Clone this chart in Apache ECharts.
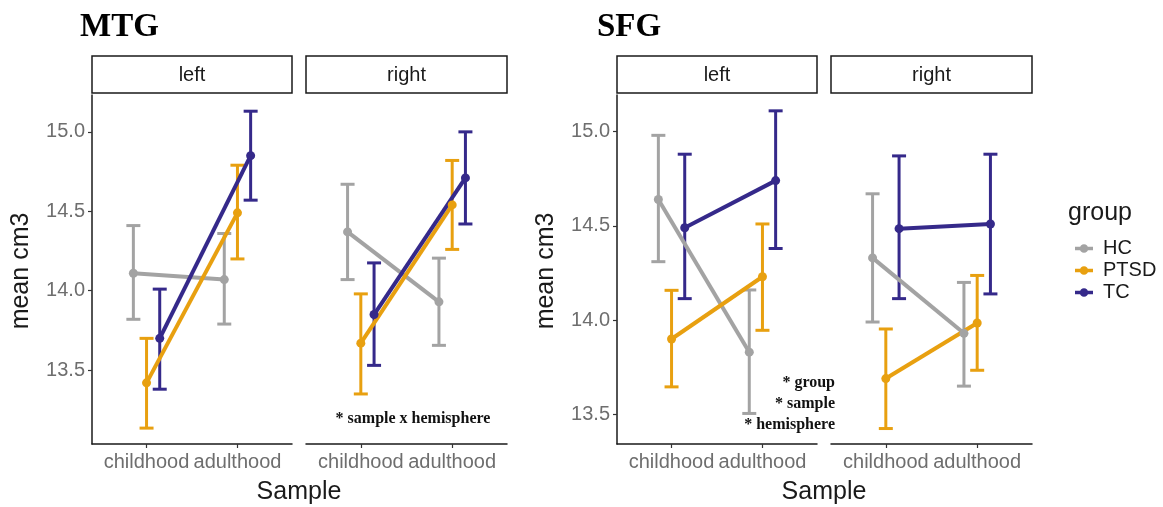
<!DOCTYPE html>
<html>
<head>
<meta charset="utf-8">
<script src="https://cdn.jsdelivr.net/npm/echarts@6/dist/echarts.min.js"></script>
<style>
    html, body { margin: 0; padding: 0; background: #fff; }
    #chart { width: 1163px; height: 507px; }
</style>
</head>
<body>
<div id="chart"></div>
<script>
// rows: HC, PTSD, TC ; columns: childhood, adulthood
const groups = ['HC', 'PTSD', 'TC'];
const samples = ['childhood', 'adulthood'];
const yTicks = [13.5, 14.0, 14.5, 15.0];

const mtgLeftMean = [[14.11, 14.07], [13.42, 14.49], [13.70, 14.85]];
const mtgLeftLow = [[13.82, 13.79], [13.135, 14.20], [13.38, 14.57]];
const mtgLeftHigh = [[14.41, 14.36], [13.70, 14.79], [14.01, 15.13]];

const mtgRightMean = [[14.37, 13.93], [13.67, 14.54], [13.85, 14.71]];
const mtgRightLow = [[14.07, 13.656], [13.35, 14.26], [13.53, 14.42]];
const mtgRightHigh = [[14.67, 14.205], [13.98, 14.82], [14.175, 15.00]];

const sfgLeftMean = [[14.64, 13.83], [13.90, 14.23], [14.49, 14.74]];
const sfgLeftLow = [[14.31, 13.505], [13.646, 13.946], [14.114, 14.38]];
const sfgLeftHigh = [[14.98, 14.16], [14.158, 14.51], [14.88, 15.11]];

const sfgRightMean = [[14.33, 13.93], [13.69, 13.985], [14.485, 14.51]];
const sfgRightLow = [[13.99, 13.65], [13.425, 13.734], [14.114, 14.139]];
const sfgRightHigh = [[14.67, 14.20], [13.953, 14.237], [14.871, 14.88]];

const colors = ['#a3a3a3', '#e8a010', '#35298a'];
const dodge = [-0.145, 0, 0.145];
const sans = 'Liberation Sans, Arial, sans-serif';
const serif = 'Liberation Serif, Times New Roman, serif';
// legend key: line with a dot, like the ggplot key
const keyIcon = 'path://M0,3.2h18v3.6h-18z M9,0.7a4.3,4.3 0 1,1 0,8.6a4.3,4.3 0 1,1 0,-8.6z';

const panels = [
    { left: 92, width: 200, strip: 'left', mean: mtgLeftMean, low: mtgLeftLow, high: mtgLeftHigh, yMin: 13.035, yMax: 15.232, showY: true },
    { left: 306, width: 201, strip: 'right', mean: mtgRightMean, low: mtgRightLow, high: mtgRightHigh, yMin: 13.035, yMax: 15.232, showY: false },
    { left: 617, width: 200, strip: 'left', mean: sfgLeftMean, low: sfgLeftLow, high: sfgLeftHigh, yMin: 13.343, yMax: 15.194, showY: true },
    { left: 831, width: 201, strip: 'right', mean: sfgRightMean, low: sfgRightLow, high: sfgRightHigh, yMin: 13.343, yMax: 15.194, showY: false },
];
const gridTop = 95, gridBottom = 444;

const grid = [], xAxis = [], yAxis = [], series = [], graphic = [];

panels.forEach((p, i) => {
    grid.push({ left: p.left, top: gridTop, width: p.width, height: gridBottom - gridTop });
    xAxis.push({
        type: 'value',
        gridIndex: i,
        min: 0.4,
        max: 2.6,
        splitLine: { show: false },
        axisLine: { lineStyle: { color: '#1a1a1a', width: 1.5 } },
        axisTick: { customValues: [1, 2], length: 4, lineStyle: { color: '#333', width: 1.2 } },
        axisLabel: {
            customValues: [1, 2],
            formatter: (v) => samples[Math.round(v) - 1],
            color: '#6e6e6e',
            fontSize: 20,
            fontFamily: sans,
            margin: 8,
        },
    });
    yAxis.push({
        type: 'value',
        gridIndex: i,
        min: p.yMin,
        max: p.yMax,
        splitLine: { show: false },
        axisLine: { show: p.showY, lineStyle: { color: '#1a1a1a', width: 1.5 } },
        axisTick: { show: p.showY, customValues: yTicks, length: 4, lineStyle: { color: '#333', width: 1.2 } },
        axisLabel: {
            show: p.showY,
            customValues: yTicks,
            formatter: (v) => v.toFixed(1),
            color: '#6e6e6e',
            fontSize: 20,
            fontFamily: sans,
            margin: 7,
        },
    });

    groups.forEach((g, k) => {
        series.push({
            name: g,
            type: 'line',
            xAxisIndex: i,
            yAxisIndex: i,
            z: 2,
            data: samples.map((s, j) => [j + 1 + dodge[k], p.mean[k][j]]),
            symbol: 'circle',
            symbolSize: 9,
            lineStyle: { width: 4, color: colors[k] },
            itemStyle: { color: colors[k] },
        });
    });
    groups.forEach((g, k) => {
        series.push({
            name: g,
            type: 'custom',
            xAxisIndex: i,
            yAxisIndex: i,
            z: 1,
            data: samples.map((s, j) => [j + 1 + dodge[k], p.low[k][j], p.high[k][j]]),
            renderItem: (params, api) => {
                const x = api.value(0);
                const lo = api.coord([x, api.value(1)]);
                const hi = api.coord([x, api.value(2)]);
                const hw = 7;
                const st = { stroke: colors[k], lineWidth: 3 };
                return {
                    type: 'group',
                    children: [
                        { type: 'line', shape: { x1: lo[0], y1: lo[1], x2: hi[0], y2: hi[1] }, style: st },
                        { type: 'line', shape: { x1: lo[0] - hw, y1: lo[1], x2: lo[0] + hw, y2: lo[1] }, style: st },
                        { type: 'line', shape: { x1: hi[0] - hw, y1: hi[1], x2: hi[0] + hw, y2: hi[1] }, style: st },
                    ],
                };
            },
        });
    });

    // strip box
    graphic.push({
        type: 'rect',
        shape: { x: p.left, y: 56, width: p.width, height: 37 },
        style: { fill: '#fff', stroke: '#1a1a1a', lineWidth: 1.5 },
    });
    graphic.push({
        type: 'text',
        x: p.left + p.width / 2,
        y: 75,
        style: { text: p.strip, font: '20px ' + sans, fill: '#1a1a1a', align: 'center', verticalAlign: 'middle' },
    });
});

const titleText = (text, x, y) => ({
    type: 'text', x, y,
    style: { text, font: 'bold 33px ' + serif, fill: '#000', align: 'left', verticalAlign: 'middle' },
});
const plainText = (text, x, y, size, rot) => ({
    type: 'text', x, y, rotation: rot || 0,
    style: { text, font: size + 'px ' + sans, fill: '#1a1a1a', align: 'center', verticalAlign: 'middle' },
});
const noteText = (text, x, y, align) => ({
    type: 'text', x, y,
    style: { text, font: 'bold 16px ' + serif, fill: '#111', align, verticalAlign: 'middle' },
});

graphic.push(
    titleText('MTG', 80, 27),
    titleText('SFG', 597, 27),
    plainText('mean cm3', 21, 271, 25, Math.PI / 2),
    plainText('mean cm3', 546, 271, 25, Math.PI / 2),
    plainText('Sample', 299, 492, 25),
    plainText('Sample', 824, 492, 25),
    { type: 'text', x: 1068, y: 213, style: { text: 'group', font: '25px ' + sans, fill: '#1a1a1a', align: 'left', verticalAlign: 'middle' } },
    noteText('* sample x hemisphere', 413, 419, 'center'),
    noteText('* group', 835, 383, 'right'),
    noteText('* sample', 835, 404, 'right'),
    noteText('* hemisphere', 835, 425, 'right')
);

const option = {
    animation: false,
    backgroundColor: '#fff',
    grid,
    xAxis,
    yAxis,
    legend: {
        data: groups.map((g, k) => ({ name: g, icon: keyIcon, itemStyle: { color: colors[k] } })),
        orient: 'vertical',
        left: 1070,
        top: 233,
        itemWidth: 18,
        itemHeight: 9,
        itemGap: 1,
        selectedMode: false,
        textStyle: { fontSize: 20, fontFamily: sans, color: '#1a1a1a', padding: [0, 0, 0, 5], lineHeight: 21 },
    },
    series,
    graphic,
};

let myChart = echarts.init(document.getElementById('chart'));
myChart.setOption(option);
</script>
</body>
</html>
